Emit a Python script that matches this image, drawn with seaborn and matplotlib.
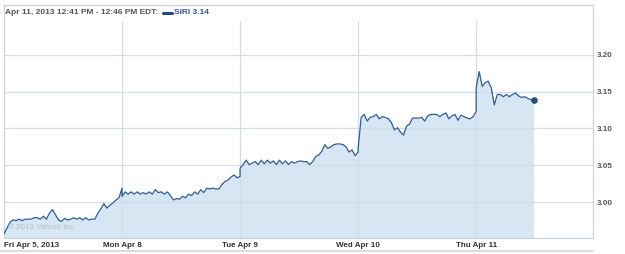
import numpy as np
import pandas as pd
import matplotlib
matplotlib.use("Agg")
import matplotlib.pyplot as plt
import seaborn as sns

# ---- data -------------------------------------------------------------
day_labels = ["Fri Apr 5, 2013", "Mon Apr 8", "Tue Apr 9", "Wed Apr 10", "Thu Apr 11"]
step_minutes = 10          # sampling interval
session_minutes = 390      # 9:30 - 16:00

fri = [2.957, 2.965, 2.973, 2.976, 2.975, 2.977, 2.975, 2.977, 2.977, 2.977,
       2.979, 2.979, 2.977, 2.981, 2.977, 2.985, 2.990, 2.983, 2.976, 2.974,
       2.978, 2.976, 2.977, 2.979, 2.977, 2.979, 2.976, 2.979, 2.976, 2.977,
       2.977, 2.985, 2.991, 2.998, 2.992, 2.996, 2.999, 3.003, 3.006, 3.019]
mon = [3.008, 3.014, 3.011, 3.014, 3.011, 3.014, 3.011, 3.013, 3.011, 3.014,
       3.011, 3.017, 3.013, 3.014, 3.011, 3.014, 3.009, 3.003, 3.005, 3.004,
       3.008, 3.006, 3.011, 3.009, 3.014, 3.011, 3.017, 3.013, 3.019, 3.018,
       3.019, 3.018, 3.018, 3.024, 3.028, 3.030, 3.034, 3.037, 3.033, 3.035]
tue = [3.046, 3.051, 3.057, 3.051, 3.053, 3.055, 3.051, 3.057, 3.052, 3.057,
       3.053, 3.056, 3.051, 3.057, 3.052, 3.056, 3.051, 3.055, 3.053, 3.055,
       3.056, 3.055, 3.055, 3.051, 3.055, 3.062, 3.064, 3.069, 3.078, 3.073,
       3.075, 3.078, 3.079, 3.079, 3.078, 3.075, 3.068, 3.071, 3.063, 3.068]
wed = [3.072, 3.115, 3.119, 3.110, 3.115, 3.116, 3.119, 3.113, 3.116, 3.115,
       3.113, 3.108, 3.098, 3.101, 3.095, 3.091, 3.103, 3.106, 3.114, 3.114,
       3.114, 3.115, 3.110, 3.117, 3.119, 3.119, 3.119, 3.116, 3.119, 3.121,
       3.113, 3.117, 3.119, 3.111, 3.118, 3.116, 3.114, 3.113, 3.116, 3.123]
thu = [3.155, 3.177, 3.157, 3.162, 3.164, 3.155, 3.132, 3.146, 3.146, 3.143,
       3.146, 3.143, 3.146, 3.148, 3.144, 3.142, 3.143, 3.141, 3.139, 3.139]

y_ticks = [3.00, 3.05, 3.10, 3.15, 3.20]
y_tick_labels = ["3.00", "3.05", "3.10", "3.15", "3.20"]
title_text = "Apr 11, 2013 12:41 PM - 12:46 PM EDT:"
legend_text = "SIRI 3.14"
watermark = "\u00a9 2013 Yahoo! Inc."

# ---- build table --------------------------------------------------------
rows = []
for d, prices in enumerate([fri, mon, tue, wed, thu]):
    for i, p in enumerate(prices):
        rows.append({"t": d + i * step_minutes / session_minutes, "price": p})
df = pd.DataFrame(rows)

# ---- style --------------------------------------------------------------
sns.set_style("white")
plt.rcParams["font.family"] = ["Liberation Sans", "DejaVu Sans"]

line_c = "#2b5d96"
fill_c = "#d6e6f2"
grid_c = "#d3dde8"
frame_c = "#c9d3de"

fig = plt.figure(figsize=(6.25, 2.54), dpi=100)
W, H = 625, 254
ax = fig.add_axes([4 / W, (H - 238) / H, (593 - 4) / W, (238 - 20.7) / H])

ymin, ymax = 2.9515, 3.246
ax.fill_between(df["t"], df["price"], ymin, color=fill_c, lw=0, zorder=1)
sns.lineplot(data=df, x="t", y="price", ax=ax, estimator=None, sort=False,
             color=line_c, lw=0.9, zorder=3)
ax.scatter([df["t"].iloc[-1]], [df["price"].iloc[-1]], s=14, color="#1d4c85",
           zorder=4)

ax.set_xlim(0, 4.99)
ax.set_ylim(ymin, ymax)

for yv in y_ticks:
    ax.axhline(yv, color=grid_c, lw=0.9, zorder=2)
for xv in range(1, 5):
    ax.axvline(xv, color=grid_c, lw=0.9, zorder=2)

ax.set_xticks(range(5))
ax.set_xticklabels(day_labels)
ax.xaxis.get_majorticklabels()[0].set_horizontalalignment("left")
ax.tick_params(axis="x", length=0, pad=3, labelsize=5.8, labelcolor="#333333")
for lab in ax.get_xticklabels():
    lab.set_fontweight("bold")

ax.yaxis.tick_right()
ax.set_yticks(y_ticks)
ax.set_yticklabels(y_tick_labels)
ax.tick_params(axis="y", length=0, pad=3, labelsize=5.8, labelcolor="#555555")
for lab in ax.get_yticklabels():
    lab.set_fontweight("bold")

ax.set_xlabel("")
ax.set_ylabel("")
for side in ["left", "right", "bottom"]:
    ax.spines[side].set_color(frame_c)
    ax.spines[side].set_linewidth(0.9)
ax.spines["top"].set_visible(False)

# outer frame pieces above the plot and below the labels
fig.add_artist(plt.Line2D([3 / W, 593 / W], [(H - 5) / H, (H - 5) / H],
                          color=frame_c, lw=0.9))
fig.add_artist(plt.Line2D([4 / W, 4 / W], [(H - 5) / H, (H - 20.7) / H],
                          color=frame_c, lw=0.9))
fig.add_artist(plt.Line2D([593 / W, 593 / W], [(H - 5) / H, (H - 20.7) / H],
                          color=frame_c, lw=0.9))
fig.add_artist(plt.Line2D([0, 593 / W], [(H - 251) / H, (H - 251) / H],
                          color="#d5d5d5", lw=1.2))

fig.text(5 / W, (H - 13) / H, title_text, fontsize=6.05, fontweight="bold",
         color="#555555", va="center", ha="left")
fig.add_artist(plt.Line2D([163 / W, 172 / W], [(H - 13) / H, (H - 13) / H],
                          color="#1d4c85", lw=2.2))
fig.text(174 / W, (H - 13) / H, legend_text, fontsize=6.05, fontweight="bold",
         color="#2b5d96", va="center", ha="left")

ax.text(0.007, 0.03, watermark, transform=ax.transAxes, fontsize=5.8,
        color="#b5c0cb", ha="left", va="bottom", zorder=5)

fig.savefig("out.png", dpi=100)
